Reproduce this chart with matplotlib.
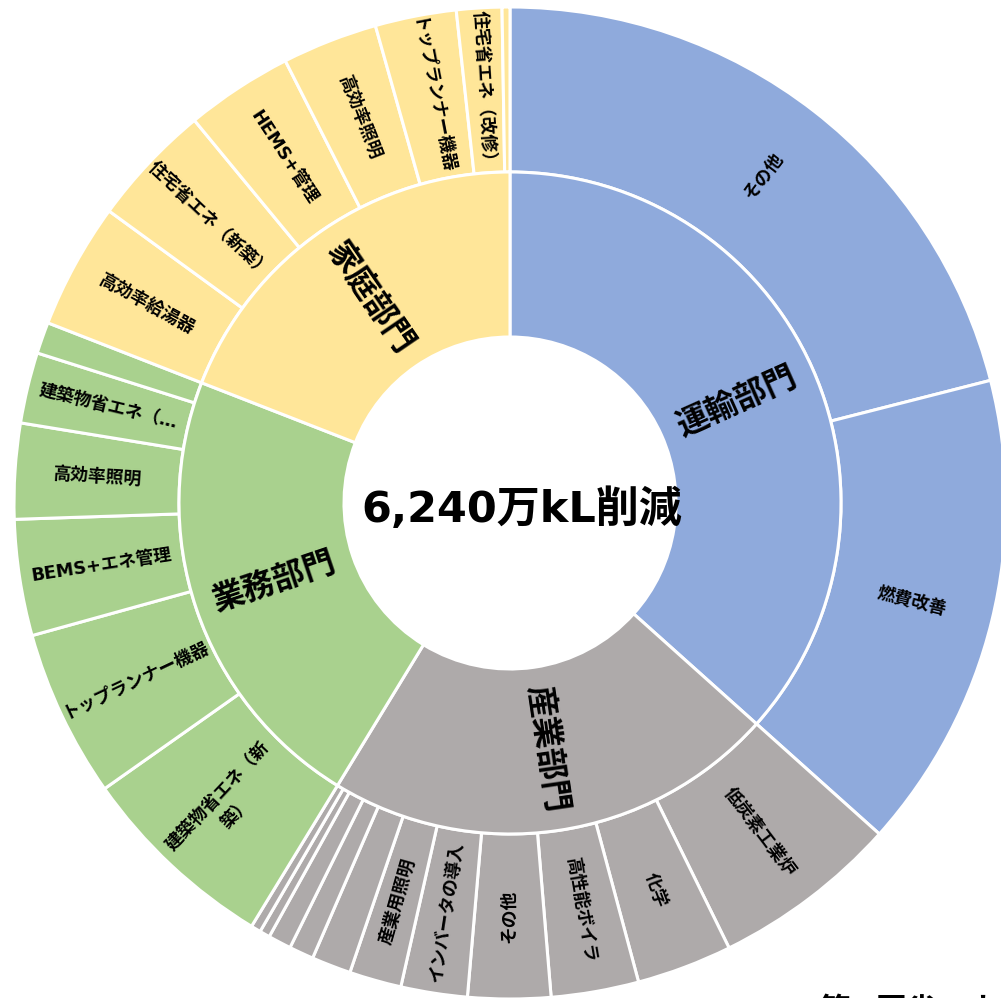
import numpy as np
import matplotlib.pyplot as plt

plt.rcParams['font.family'] = ['DejaVu Sans', 'Noto Sans CJK JP']

total_label = "6,240万kL削減"

sectors = ["運輸部門", "産業部門", "業務部門", "家庭部門"]
sector_colors = ["#8FAADC", "#AEAAAA", "#A9D18E", "#FFE699"]

# 万kL
transport_items = ["その他", "燃費改善"]
transport_vals = [1312, 974]

industry_items = ["低炭素工業炉", "化学", "高性能ボイラ", "その他", "インバータの導入",
                  "産業用照明", "", "", "", "", ""]
industry_vals = [380, 194, 178, 168, 135, 106, 80, 50, 47, 21, 20]

commercial_items = ["建築物省エネ（新\n築）", "トップランナー機器", "BEMS+エネ管理",
                    "高効率照明", "建築物省エネ（…", ""]
commercial_vals = [406, 341, 236, 194, 144, 64]

household_items = ["高効率給湯器", "住宅省エネ（新築）", "HEMS+管理", "高効率照明",
                   "トップランナー機器", "住宅省エネ（改修）", ""]
household_vals = [256, 250, 218, 194, 165, 92, 16]

groups = [
    (transport_items, transport_vals),
    (industry_items, industry_vals),
    (commercial_items, commercial_vals),
    (household_items, household_vals),
]

inner_vals = [sum(v) for _, v in groups]
outer_vals, outer_labels, outer_colors = [], [], []
for (items, vals), col in zip(groups, sector_colors):
    outer_vals += vals
    outer_labels += items
    outer_colors += [col] * len(vals)

R_HOLE, R_MID, R_OUT = 166, 331, 496


def mid_angles(vals):
    total = sum(vals)
    cum = np.cumsum([0] + list(vals))
    return [90 - (cum[i] + vals[i] / 2) / total * 360 for i in range(len(vals))]


def radial_rotation(theta):
    a = (theta + 180) % 360 - 180
    if a > 90:
        return a - 180
    if a < -90:
        return a + 180
    return a


fig = plt.figure(figsize=(10.01, 9.98), dpi=100)
ax = fig.add_axes([0, 0, 1, 1])

wp = dict(edgecolor="white", linewidth=2.2)
ax.pie(outer_vals, radius=R_OUT, startangle=90, counterclock=False,
       colors=outer_colors, wedgeprops=dict(width=R_OUT - R_MID, **wp))
ax.pie(inner_vals, radius=R_MID, startangle=90, counterclock=False,
       colors=sector_colors, wedgeprops=dict(width=R_MID - R_HOLE, **wp))

r = (R_MID + R_OUT) / 2
for lab, th in zip(outer_labels, mid_angles(outer_vals)):
    if not lab:
        continue
    t = np.deg2rad(th)
    ax.text(r * np.cos(t), r * np.sin(t), lab, rotation=radial_rotation(th),
            rotation_mode="anchor", ha="center", va="center",
            fontsize=12.8, fontweight="bold", linespacing=1.5)

r = (R_HOLE + R_MID) / 2
for lab, th in zip(sectors, mid_angles(inner_vals)):
    t = np.deg2rad(th)
    ax.text(r * np.cos(t), r * np.sin(t), lab, rotation=radial_rotation(th),
            rotation_mode="anchor", ha="center", va="center",
            fontsize=23, fontweight="bold")

ax.text(12, -7, total_label, ha="center", va="center", fontsize=31,
        fontweight="bold")

ax.set_xlim(-510, 491)
ax.set_ylim(-495, 503)
ax.axis("off")

# slide footer, cut off by the bottom edge as in the source picture
fig.text(0.819, 0.003, "第○回省エネルギー小委員会", ha="left", va="top",
         fontsize=22, fontweight="bold")

fig.savefig("out.png", dpi=100)
